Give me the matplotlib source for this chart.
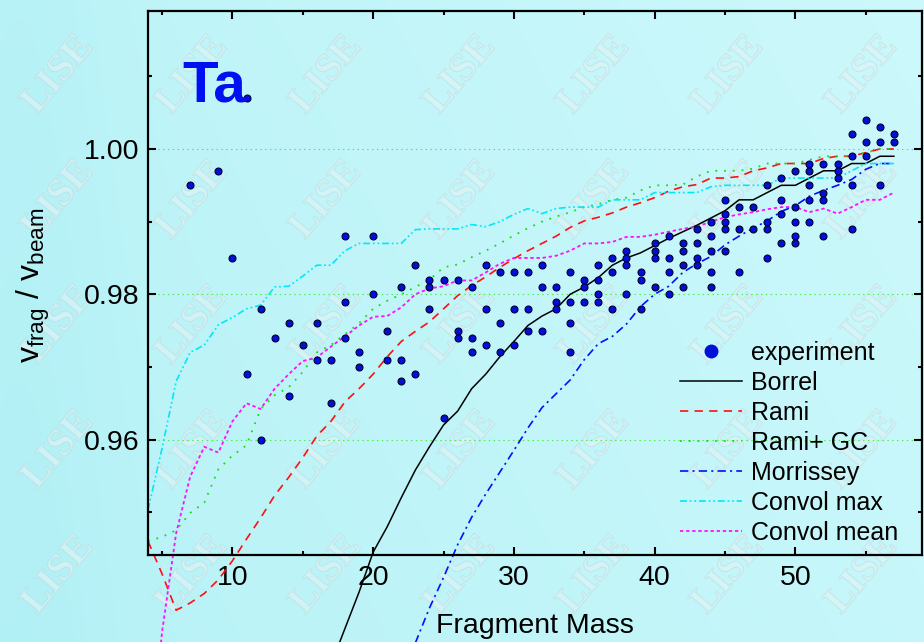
import numpy as np
import matplotlib
matplotlib.use("Agg")
import matplotlib.pyplot as plt
import matplotlib.patheffects as pe
from matplotlib.lines import Line2D
from matplotlib.ticker import MultipleLocator, FormatStrFormatter

plt.rcParams['font.family'] = ['Liberation Sans', 'DejaVu Sans']
plt.rcParams['mathtext.fontset'] = 'custom'
plt.rcParams['mathtext.rm'] = 'Liberation Sans'
plt.rcParams['mathtext.it'] = 'Liberation Sans'
plt.rcParams['lines.scale_dashes'] = False

# measured fragments: mass number and velocity ratio
exp_mass = [7, 9, 10, 11, 11,
            12, 12, 13, 14, 14, 15, 16, 16, 17, 17,
            18, 18, 18, 19, 19, 20, 20, 21, 21,
            22, 22, 22, 23, 23, 24, 24, 24, 25, 25,
            26, 26, 26, 27, 27, 27, 28, 28, 28,
            29, 29, 29, 30, 30, 30, 31, 31, 31,
            32, 32, 32, 33, 33, 33, 34, 34, 34, 34,
            35, 35, 35, 36, 36, 36, 36, 37, 37, 37,
            38, 38, 38, 38, 39, 39, 39, 40, 40, 40, 40,
            41, 41, 41, 41, 42, 42, 42, 42, 43, 43, 43, 43,
            44, 44, 44, 44, 44, 45, 45, 45, 45, 45,
            46, 46, 46, 47, 47, 48, 48, 48, 48,
            49, 49, 49, 49, 50, 50, 50, 50, 50,
            51, 51, 51, 51, 51, 52, 52, 52, 52,
            53, 53, 53, 54, 54, 54, 54, 55, 55, 55,
            56, 56, 56, 57, 57]
exp_ratio = [0.995, 0.997, 0.985, 0.969, 1.007,
             0.978, 0.960, 0.974, 0.976, 0.966, 0.973, 0.976, 0.971, 0.971, 0.965,
             0.988, 0.979, 0.974, 0.972, 0.970, 0.988, 0.980, 0.975, 0.971,
             0.981, 0.971, 0.968, 0.984, 0.969, 0.982, 0.981, 0.978, 0.982, 0.963,
             0.982, 0.975, 0.974, 0.981, 0.974, 0.972, 0.984, 0.978, 0.973,
             0.983, 0.976, 0.972, 0.983, 0.978, 0.973, 0.983, 0.978, 0.975,
             0.984, 0.981, 0.975, 0.981, 0.979, 0.978, 0.983, 0.979, 0.976, 0.972,
             0.982, 0.981, 0.979, 0.984, 0.982, 0.980, 0.979, 0.985, 0.983, 0.978,
             0.986, 0.985, 0.984, 0.980, 0.983, 0.982, 0.978, 0.987, 0.986, 0.985, 0.981,
             0.988, 0.985, 0.983, 0.980, 0.987, 0.986, 0.984, 0.981, 0.989, 0.987, 0.985, 0.984,
             0.990, 0.988, 0.986, 0.983, 0.981, 0.993, 0.991, 0.990, 0.989, 0.986,
             0.992, 0.989, 0.983, 0.992, 0.989, 0.995, 0.990, 0.989, 0.985,
             0.996, 0.993, 0.991, 0.987, 0.997, 0.992, 0.990, 0.988, 0.987,
             0.998, 0.997, 0.995, 0.993, 0.990, 0.998, 0.994, 0.993, 0.988,
             0.998, 0.997, 0.996, 1.002, 0.999, 0.995, 0.989, 1.004, 1.001, 0.999,
             1.003, 1.001, 0.995, 1.002, 1.001]

# model curves
borrel_mass = np.arange(17, 58)
borrel = [0.929, 0.934, 0.939, 0.9445, 0.948, 0.952, 0.9558, 0.959, 0.962, 0.9639,
          0.967, 0.969, 0.9714, 0.9735, 0.9757, 0.977, 0.978, 0.980, 0.981, 0.9823,
          0.984, 0.985, 0.9857, 0.9867, 0.9877, 0.9886, 0.9895, 0.9905, 0.9915, 0.993,
          0.993, 0.994, 0.995, 0.995, 0.996, 0.997, 0.997, 0.998, 0.998, 0.999, 0.999]

rami_mass = np.arange(4, 58)
rami = [0.946, 0.9415, 0.9365, 0.9375, 0.9388, 0.9407, 0.9433, 0.9463, 0.9492, 0.9523,
        0.9548, 0.9575, 0.9605, 0.9625, 0.9652, 0.9670, 0.969, 0.9714, 0.9735, 0.9749,
        0.9762, 0.978, 0.9798, 0.9812, 0.9824, 0.9837, 0.9849, 0.9860, 0.9870, 0.9880,
        0.9892, 0.9901, 0.9906, 0.9912, 0.9920, 0.9926, 0.9933, 0.9942, 0.9948, 0.9951,
        0.996, 0.996, 0.9962, 0.997, 0.9974, 0.998, 0.998, 0.998, 0.9987, 0.999,
        0.999, 0.9995, 1.000, 1.000]

rami_gc_mass = np.arange(4, 58)
rami_gc = [0.946, 0.9466, 0.9475, 0.9499, 0.9513, 0.9559, 0.9578, 0.9592, 0.9642, 0.9661,
           0.9672, 0.9693, 0.9720, 0.9730, 0.9745, 0.9760, 0.9780, 0.9791, 0.980, 0.981,
           0.982, 0.9837, 0.9841, 0.9851, 0.9860, 0.987, 0.9881, 0.9891, 0.990, 0.9907,
           0.9913, 0.992, 0.9924, 0.993, 0.9933, 0.9943, 0.995, 0.995, 0.9951, 0.9962,
           0.997, 0.997, 0.997, 0.9973, 0.998, 0.998, 0.998, 0.9985, 0.999, 0.999,
           0.999, 0.9995, 1.000, 1.000]

morrissey_mass = np.arange(22, 58)
morrissey = [0.928, 0.932, 0.9368, 0.941, 0.9455, 0.9493, 0.9525, 0.9555, 0.9585, 0.9616,
             0.9644, 0.9663, 0.9682, 0.971, 0.9732, 0.9742, 0.9759, 0.9783, 0.9800, 0.9811,
             0.983, 0.9842, 0.9852, 0.9868, 0.988, 0.9891, 0.9901, 0.9914, 0.9922, 0.9935,
             0.9943, 0.995, 0.9958, 0.9972, 0.998, 0.998]

convol_max_mass = np.arange(4, 58)
convol_max = [0.9503, 0.9588, 0.968, 0.972, 0.973, 0.9758, 0.9768, 0.978, 0.9785, 0.981,
              0.9811, 0.9825, 0.984, 0.984, 0.986, 0.987, 0.987, 0.987, 0.987, 0.9889,
              0.989, 0.989, 0.989, 0.9896, 0.9893, 0.990, 0.991, 0.9918, 0.9911, 0.9918,
              0.992, 0.992, 0.992, 0.993, 0.993, 0.993, 0.994, 0.994, 0.994, 0.994,
              0.9948, 0.995, 0.995, 0.995, 0.995, 0.996, 0.996, 0.996, 0.996, 0.996,
              0.997, 0.998, 0.998, 0.998]

convol_mean_mass = np.arange(4, 58)
convol_mean = [0.915, 0.9335, 0.9471, 0.9549, 0.959, 0.9582, 0.9625, 0.965, 0.9642, 0.967,
               0.969, 0.9708, 0.9713, 0.9728, 0.9742, 0.9757, 0.9769, 0.977, 0.9782, 0.980,
               0.9808, 0.9811, 0.9819, 0.9819, 0.983, 0.9842, 0.985, 0.985, 0.985, 0.9853,
               0.986, 0.987, 0.987, 0.9872, 0.9879, 0.9879, 0.9882, 0.9886, 0.989, 0.9893,
               0.990, 0.9906, 0.991, 0.9913, 0.9917, 0.992, 0.992, 0.9913, 0.9918, 0.9911,
               0.992, 0.993, 0.993, 0.994]

W, H = 924, 642
fig = plt.figure(figsize=(W / 100, H / 100), dpi=100)

# background: soft cyan gradient with a faint LISE watermark
bg = fig.add_axes([0, 0, 1, 1], zorder=0)
bg.set_axis_off()
yy, xx = np.mgrid[0:1:200j, 0:1:300j]
t = np.clip(0.25 + 0.55 * xx + 0.2 * (1 - yy) - 0.2 * np.exp(-((xx - 0.03) ** 2) / 0.008), 0, 1)
c1 = np.array([0.69, 0.94, 0.96])
c2 = np.array([0.80, 0.975, 0.985])
img = c1[None, None, :] * (1 - t[..., None]) + c2[None, None, :] * t[..., None]
bg.imshow(img, extent=[0, 1, 0, 1], aspect='auto', origin='upper')
bg.set_xlim(0, 1)
bg.set_ylim(0, 1)
for i in range(7):
    for j in range(5):
        cx = (58 + 134 * i) / W
        cy = 1 - (75 + 125 * j) / H
        bg.text(cx, cy, 'LISE', ha='center', va='center', rotation=50,
                fontsize=28, family='Liberation Serif', fontweight='bold',
                color='#dff4f6', alpha=0.4,
                path_effects=[pe.Stroke(linewidth=1.0, foreground='#b8d0d4'), pe.Normal()])

ax = fig.add_axes([148 / W, 1 - 555 / H, 774 / W, 544 / H], zorder=1)
ax.set_facecolor('none')

ax.plot(borrel_mass, borrel, color='black', lw=1.1, clip_on=False, label='Borrel')
ax.plot(rami_mass, rami, color='#ff1010', lw=1.2, dashes=(6, 4.5), clip_on=False, label='Rami')
ax.plot(rami_gc_mass, rami_gc, color='#10e010', lw=1.3, dashes=(1.3, 5), clip_on=False, label='Rami+ GC')
ax.plot(morrissey_mass, morrissey, color='#0010ff', lw=1.2, dashes=(6, 3, 1.5, 3), clip_on=False, label='Morrissey')
ax.plot(convol_max_mass, convol_max, color='#00e8f8', lw=1.2, dashes=(5, 2, 1.3, 2, 1.3, 2),
        clip_on=False, label='Convol max')
ax.plot(convol_mean_mass, convol_mean, color='#ff10ff', lw=1.3, dashes=(2.4, 2), clip_on=False,
        label='Convol mean')
ax.plot(exp_mass, exp_ratio, 'o', ms=5, mfc='#0010d8', mec='#000030', mew=0.8,
        zorder=3, label='experiment')

ax.set_xlim(4, 59)
ax.set_ylim(0.9441, 1.019)
ax.xaxis.set_major_locator(MultipleLocator(10))
ax.xaxis.set_minor_locator(MultipleLocator(5))
ax.yaxis.set_major_locator(MultipleLocator(0.02))
ax.yaxis.set_minor_locator(MultipleLocator(0.01))
ax.yaxis.set_major_formatter(FormatStrFormatter('%.2f'))
ax.grid(axis='y', which='major', color='#44ee44', lw=0.8, dashes=(1, 2.5))
ax.tick_params(which='both', direction='in', top=True, right=True, width=1.5, labelsize=20.5)
ax.tick_params(which='major', length=5.5)
ax.tick_params(axis='y', which='major', pad=6)
ax.tick_params(axis='x', which='major', pad=7)
ax.tick_params(which='minor', length=3)
for s in ax.spines.values():
    s.set_linewidth(1.6)

ax.set_xlabel('Fragment Mass', fontsize=20.5, labelpad=16)
ax.set_ylabel(r'$\mathregular{v_{frag}\ /\ v_{beam}}$', fontsize=23)
ax.yaxis.set_label_coords(-0.124, 0.495)

ax.text(0.045, 0.833, 'Ta', transform=ax.transAxes, fontsize=42, fontweight='bold',
        color='#0010f0', ha='left', va='baseline')

handles = [Line2D([], [], ls='none', marker='o', ms=9, mfc='#0010d8', mec='#0010d8')]
labels = ['experiment']
for ln in ax.get_lines()[:6]:
    handles.append(ln)
    labels.append(ln.get_label())
ax.legend(handles, labels, loc='upper left', bbox_to_anchor=(0.687, 0.393), frameon=False,
          fontsize=18, handlelength=2.5, handletextpad=0.36, labelspacing=0.24,
          borderaxespad=0, borderpad=0)

fig.savefig('out.png', dpi=100)
